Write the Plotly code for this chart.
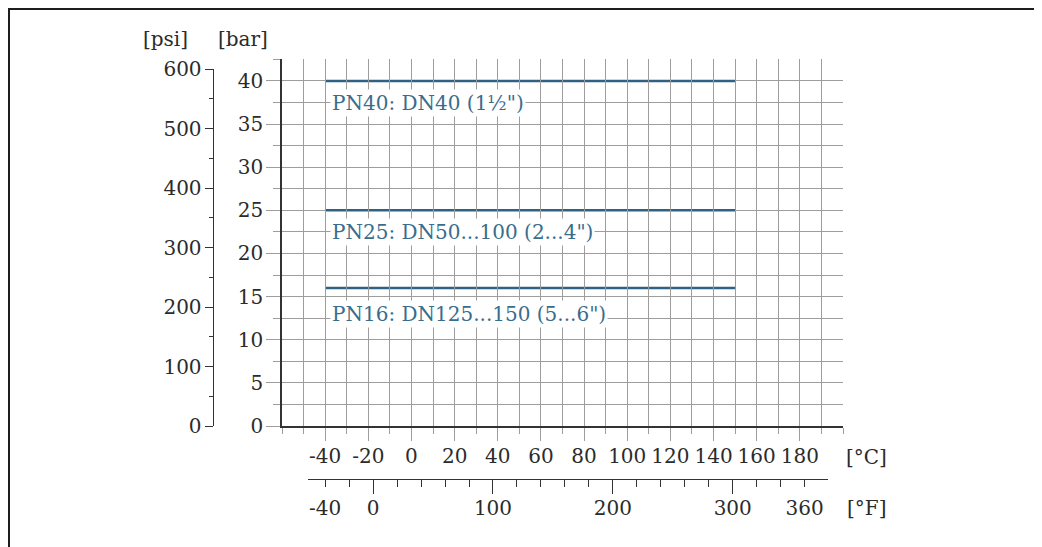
import plotly.graph_objects as go

# ---------------- data ----------------
temp_c = [-40, 150]                      # temperature span of each rating line [°C]
series_labels = ['PN40: DN40 (1½")', 'PN25: DN50...100 (2...4")', 'PN16: DN125...150 (5...6")']
pressure_bar = [40, 25, 16]              # rated pressure [bar]

c_ticks = [-40, -20, 0, 20, 40, 60, 80, 100, 120, 140, 160, 180]
bar_ticks = [0, 5, 10, 15, 20, 25, 30, 35, 40]
psi_ticks = [0, 100, 200, 300, 400, 500, 600]
f_ticks = [-40, 0, 100, 200, 300, 360]
f_major = [0, 100, 200, 300]
f_minor = list(range(-40, 361, 20))

# ---------------- styling / geometry ----------------
FW, FH = 1028, 547          # figure size (page body adds an 8px offset)
OFF = 8
FONT = "DejaVu Serif"
TXT = "#2b2b2b"
GRID = "#9d9d9d"
AX = "#333333"
LINE_C = "#2f6282"
LAB_C = "#3a6d8c"
FS = 20

def px(p):                  # page pixel -> paper fraction
    return (p - OFF) / FW

def py(p):
    return 1 - (p - OFF) / FH

X_L, X_R = 282, 843          # plot area in page pixels
Y_B, Y_T = 426, 59.4
C_RANGE = [-60, 200]
BAR_RANGE = [0, 42.5]

def c_at(pix):
    return C_RANGE[0] + (pix - X_L) / (X_R - X_L) * (C_RANGE[1] - C_RANGE[0])

def c2f(c):
    return c * 9 / 5 + 32

PSI_PER_BAR = 14.5038
psi_top_px = Y_B - (psi_ticks[-1] / PSI_PER_BAR) / BAR_RANGE[1] * (Y_B - Y_T)

F_L, F_R = 308, 828
f_range = [c2f(c_at(F_L)), c2f(c_at(F_R))]

fig = go.Figure()

for lab, p in zip(series_labels, pressure_bar):
    fig.add_trace(go.Scatter(x=temp_c, y=[p, p], mode="lines", name=lab,
                             line=dict(color=LINE_C, width=2.5),
                             showlegend=False, hoverinfo="skip"))

# helper traces to materialise the secondary axes
fig.add_trace(go.Scatter(x=[None], y=[None], xaxis="x", yaxis="y2", showlegend=False))
fig.add_trace(go.Scatter(x=[None], y=[None], xaxis="x2", yaxis="y2", showlegend=False))
fig.add_trace(go.Scatter(x=[None], y=[None], xaxis="x3", yaxis="y2", showlegend=False))

tickfont = dict(family=FONT, size=FS, color=TXT)

fig.update_layout(
    width=FW, height=FH, autosize=False,
    margin=dict(l=0, r=0, t=0, b=0),
    paper_bgcolor="white", plot_bgcolor="rgba(0,0,0,0)",
    font=dict(family=FONT, size=FS, color=TXT),
    xaxis=dict(
        domain=[px(X_L), px(X_R)], range=C_RANGE, anchor="y",
        tickmode="array", tickvals=c_ticks, ticktext=[str(v) for v in c_ticks],
        ticks="outside", ticklen=13, tickwidth=1, tickcolor=GRID,
        showgrid=True, gridcolor=GRID, gridwidth=1,
        minor=dict(tick0=-60, dtick=10, ticks="outside", ticklen=6, tickcolor=GRID,
                   showgrid=True, gridcolor=GRID, gridwidth=1),
        showline=True, linecolor=AX, linewidth=1.5, zeroline=False,
        tickangle=0, tickfont=tickfont, ticklabelstandoff=-2, automargin=False,
    ),
    yaxis=dict(
        domain=[py(Y_B), py(Y_T)], range=BAR_RANGE, anchor="x",
        tickmode="array", tickvals=bar_ticks,
        ticks="outside", ticklen=14, tickwidth=1, tickcolor=GRID,
        showgrid=True, gridcolor=GRID, gridwidth=1,
        minor=dict(tick0=0, dtick=2.5, ticks="outside", ticklen=7, tickcolor=GRID,
                   showgrid=True, gridcolor=GRID, gridwidth=1),
        showline=True, linecolor=AX, linewidth=1.5, zeroline=False,
        tickfont=tickfont, ticklabelstandoff=-1, automargin=False,
    ),
    yaxis2=dict(
        domain=[py(Y_B), py(psi_top_px)], range=[0, psi_ticks[-1]],
        anchor="free", position=px(212.7),
        tickmode="array", tickvals=psi_ticks,
        ticks="outside", ticklen=8, tickwidth=1, tickcolor=AX,
        minor=dict(tick0=0, dtick=50, ticks="outside", ticklen=4, tickcolor=AX),
        showgrid=False, showline=True, linecolor=AX, linewidth=1.2, zeroline=False,
        tickfont=tickfont, ticklabelstandoff=-1, automargin=False,
    ),
    xaxis2=dict(
        domain=[px(F_L), px(F_R)], range=f_range,
        anchor="free", position=py(479),
        tickmode="array", tickvals=f_ticks, ticktext=[str(v) for v in f_ticks],
        ticks="outside", ticklen=7, tickwidth=1, tickcolor=AX,
        minor=dict(tickvals=f_minor, ticks="outside", ticklen=7, tickcolor=AX),
        showgrid=False, showline=True, linecolor=AX, linewidth=1.2, zeroline=False,
        tickangle=0, tickfont=tickfont, ticklabelstandoff=4, automargin=False,
    ),
    xaxis3=dict(
        overlaying="x2", range=f_range,
        anchor="free", position=py(479),
        tickmode="array", tickvals=f_major,
        ticks="outside", ticklen=14, tickwidth=1.2, tickcolor=AX,
        showticklabels=False, showgrid=False, showline=False, zeroline=False,
        automargin=False,
    ),
)

# series labels below each line
label_offset = [2.5, 2.5, 3.0]
for lab, p, off in zip(series_labels, pressure_bar, label_offset):
    fig.add_annotation(x=temp_c[0], y=p - off, xref="x", yref="y", text=lab,
                       xanchor="left", yanchor="middle", showarrow=False,
                       bgcolor="white", borderpad=1, xshift=5,
                       font=dict(family=FONT, size=FS, color=LAB_C))

# unit labels
for txt, xp, yp in [("[psi]", 165, 39), ("[bar]", 243, 39), ("[°C]", 866, 457), ("[°F]", 866, 508)]:
    fig.add_annotation(x=px(xp), y=py(yp), xref="paper", yref="paper", text=txt,
                       xanchor="center", yanchor="middle", showarrow=False,
                       font=dict(family=FONT, size=FS, color=TXT))

# outer frame
fig.add_shape(type="rect", xref="paper", yref="paper",
              x0=px(9), x1=px(1035), y0=-0.05, y1=py(9),
              line=dict(color="#1e1e1e", width=2), fillcolor="rgba(0,0,0,0)", layer="below")

fig.write_html("out.html")
